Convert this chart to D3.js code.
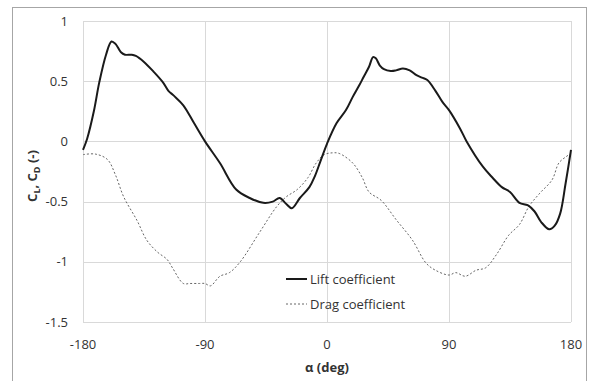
<!DOCTYPE html>
<html>
<head>
<meta charset="utf-8">
<script src="https://cdn.jsdelivr.net/npm/d3@7"></script>
<style>
  body { margin: 0; background: #fff; }
  text { font-family: "Open Sans", "Liberation Sans", Arial, sans-serif; fill: #333; }
</style>
</head>
<body>
<div id="chart"></div>
<script>
// angle of attack (deg) and lift coefficient
var liftAlpha = [-180, -177, -172, -168, -163, -159, -156, -152, -149, -144, -141, -135, -128, -121, -117, -113, -106, -98, -90,
    -79, -67, -57, -47, -40, -35, -30, -26, -20, -13, -9, -5, 0, 7, 14, 19, 24, 27, 31, 34, 36, 39, 42, 47, 51, 56, 61, 66, 70, 74,
    80, 85, 90, 98, 103, 115, 122, 129, 135, 142, 148, 153, 158, 164, 168, 172, 176, 180];
var liftValues = [-0.07, 0.02, 0.25, 0.49, 0.72, 0.83, 0.81, 0.74, 0.72, 0.72, 0.71, 0.66, 0.58, 0.49, 0.42, 0.38, 0.30, 0.15, 0.0,
    -0.18, -0.40, -0.47, -0.51, -0.50, -0.47, -0.52, -0.555, -0.47, -0.38, -0.29, -0.17, -0.02, 0.15, 0.26, 0.37, 0.47, 0.535, 0.62, 0.70, 0.69, 0.63, 0.60, 0.585, 0.59, 0.605, 0.59, 0.55, 0.53, 0.51,
    0.42, 0.33, 0.26, 0.11, 0.0, -0.21, -0.30, -0.38, -0.42, -0.51, -0.53, -0.58, -0.67, -0.73, -0.70, -0.60, -0.35, -0.07];

// angle of attack (deg) and drag coefficient (as plotted)
var dragAlpha = [-180, -171, -162, -156, -150, -140, -133, -125, -118, -114, -106, -101, -94, -90, -86, -79, -72, -64, -50, -37, -30, -22,
    -14, -8, -2, 4, 9, 19, 26, 31, 40, 51, 63, 73, 80, 90, 95, 102, 110, 117, 125, 134, 142, 149, 157, 166, 171, 176, 180];
var dragValues = [-0.11, -0.105, -0.15, -0.28, -0.46, -0.66, -0.82, -0.92, -0.98, -1.05, -1.18, -1.18, -1.18, -1.18, -1.20, -1.12, -1.09, -1.0, -0.76, -0.54, -0.46, -0.40,
    -0.30, -0.18, -0.11, -0.095, -0.10, -0.18, -0.30, -0.42, -0.49, -0.65, -0.82, -1.01, -1.07, -1.11, -1.09, -1.12, -1.07, -1.05, -0.94, -0.78, -0.69, -0.54, -0.43, -0.32, -0.18, -0.13, -0.10];

var xTicks = [-180, -90, 0, 90, 180];
var yTicks = [-1.5, -1, -0.5, 0, 0.5, 1];
var seriesNames = ["Lift coefficient", "Drag coefficient"];

var margin = {top: 21, right: 25, bottom: 59, left: 83};
var width = 596 - margin.left - margin.right;
var height = 381 - margin.top - margin.bottom;

var svg = d3.select("#chart").append("svg")
    .attr("width", 596)
    .attr("height", 381);

// chart border
svg.append("rect")
    .attr("x", 12.5).attr("y", 7.5)
    .attr("width", 574).attr("height", 380)
    .attr("fill", "none")
    .attr("stroke", "#a6a6a6")
    .attr("stroke-width", 1);

var g = svg.append("g")
    .attr("transform", "translate(" + margin.left + "," + margin.top + ")");

var x = d3.scaleLinear().domain([-180, 180]).range([0, width]);
var y = d3.scaleLinear().domain([-1.5, 1]).range([height, 0]);

// gridlines
g.append("g")
    .selectAll("line")
    .data(yTicks)
    .enter().append("line")
    .attr("x1", 0).attr("x2", width)
    .attr("y1", function (d) { return Math.round(y(d)) + 0.5; })
    .attr("y2", function (d) { return Math.round(y(d)) + 0.5; })
    .attr("stroke", "#d9d9d9");

g.append("g")
    .selectAll("line")
    .data(xTicks)
    .enter().append("line")
    .attr("y1", 0).attr("y2", height)
    .attr("x1", function (d) { return Math.round(x(d)) + 0.5; })
    .attr("x2", function (d) { return Math.round(x(d)) + 0.5; })
    .attr("stroke", "#d9d9d9");

// tick labels
g.append("g")
    .selectAll("text")
    .data(yTicks)
    .enter().append("text")
    .attr("x", -15)
    .attr("y", function (d) { return y(d); })
    .attr("dy", "0.35em")
    .attr("text-anchor", "end")
    .style("font-size", "13px")
    .text(function (d) { return d; });

g.append("g")
    .selectAll("text")
    .data(xTicks)
    .enter().append("text")
    .attr("x", function (d) { return x(d); })
    .attr("y", height + 22)
    .attr("dy", "0.35em")
    .attr("text-anchor", "middle")
    .style("font-size", "13px")
    .text(function (d) { return d; });

// axis titles
g.append("text")
    .attr("x", width / 2)
    .attr("y", height + 45)
    .attr("dy", "0.35em")
    .attr("text-anchor", "middle")
    .style("font-size", "13px")
    .style("font-weight", "bold")
    .text("α (deg)");

var yLabel = svg.append("text")
    .attr("transform", "translate(37,176) rotate(-90)")
    .attr("text-anchor", "middle")
    .style("font-size", "13px")
    .style("font-weight", "bold");
yLabel.append("tspan").text("C");
yLabel.append("tspan").attr("dy", 3).style("font-size", "9px").text("L");
yLabel.append("tspan").attr("dy", -3).text(", C");
yLabel.append("tspan").attr("dy", 3).style("font-size", "9px").text("D");
yLabel.append("tspan").attr("dy", -3).text(" (-)");

// curves
var line = d3.line()
    .x(function (d) { return x(d[0]); })
    .y(function (d) { return y(d[1]); })
    .curve(d3.curveCatmullRom.alpha(0.5));

var dragData = dragAlpha.map(function (a, i) { return [a, dragValues[i]]; });
var liftData = liftAlpha.map(function (a, i) { return [a, liftValues[i]]; });

g.append("path")
    .datum(dragData)
    .attr("fill", "none")
    .attr("stroke", "#666")
    .attr("stroke-width", 1)
    .attr("stroke-dasharray", "2,2")
    .attr("d", line);

g.append("path")
    .datum(liftData)
    .attr("fill", "none")
    .attr("stroke", "#1a1a1a")
    .attr("stroke-width", 2)
    .attr("d", line);

// legend
var legend = g.append("g")
    .attr("transform", "translate(203,258)")
    .selectAll("g")
    .data(seriesNames)
    .enter().append("g")
    .attr("transform", function (d, i) { return "translate(0," + i * 25 + ")"; });

legend.append("line")
    .attr("x1", 0).attr("x2", 21)
    .attr("stroke", function (d, i) { return i === 0 ? "#1a1a1a" : "#666"; })
    .attr("stroke-width", function (d, i) { return i === 0 ? 2 : 1; })
    .attr("stroke-dasharray", function (d, i) { return i === 0 ? null : "2,2"; });

legend.append("text")
    .attr("x", 24)
    .attr("dy", "0.35em")
    .style("font-size", "13px")
    .text(function (d) { return d; });
</script>
</body>
</html>
